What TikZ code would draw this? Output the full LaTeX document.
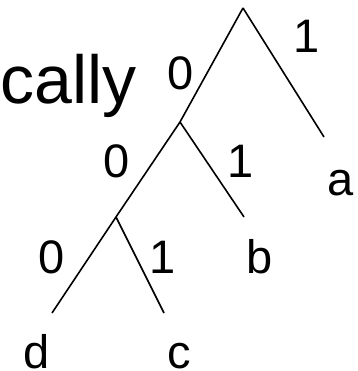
\documentclass[tikz,border=0pt]{standalone}
\usepackage{fontspec}
\setmainfont{Liberation Sans}
\begin{document}
\begin{tikzpicture}[x=1bp,y=-1bp,
  edge/.style={line width=1.6bp,black},
  lbl/.style={inner sep=0pt,anchor=base,font=\fontsize{47bp}{56bp}\selectfont},
  big/.style={inner sep=0pt,anchor=base west,font=\fontsize{68bp}{80bp}\selectfont}]
\useasboundingbox (0,0) rectangle (358,371);
\coordinate (root) at (243,8);
\coordinate (n1) at (180,122);
\coordinate (n2) at (116,217);
\coordinate (la) at (324,137);
\coordinate (lb) at (244,217);
\coordinate (ld) at (52,313);
\coordinate (lc) at (164,313);
\draw[edge] (root) -- (n1) -- (n2) -- (ld);
\draw[edge] (root) -- (la);
\draw[edge] (n1) -- (lb);
\draw[edge] (n2) -- (lc);
\node[big] (word) at (0,103) {cally};
\node[lbl] (e1) at (307,52) {1};
\node[lbl] (e0) at (181,89) {0};
\node[lbl] (e01) at (241,177) {1};
\node[lbl] (e00) at (117,177) {0};
\node[lbl] (e001) at (163,273) {1};
\node[lbl] (e000) at (52,273) {0};
\node[lbl] (a) at (341,195) {a};
\node[lbl] (b) at (260,273) {b};
\node[lbl] (d) at (37,368) {d};
\node[lbl] (c) at (179,368) {c};
\end{tikzpicture}
\end{document}
